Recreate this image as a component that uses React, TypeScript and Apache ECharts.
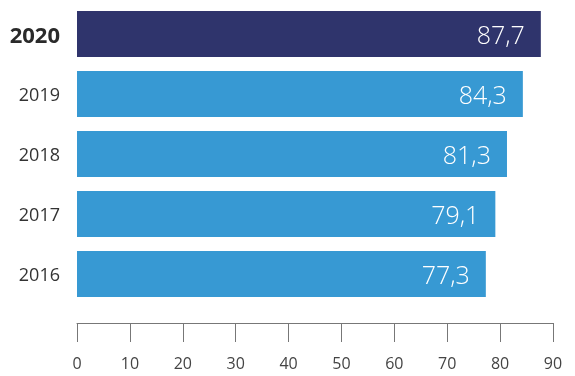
import React, { useEffect, useRef } from "react";
import * as echarts from "echarts";

const years = ["2020", "2019", "2018", "2017", "2016"];
const values = [87.7, 84.3, 81.3, 79.1, 77.3];
const highlightYear = "2020";

const NAVY = "#2F346C";
const BLUE = "#3799D3";
const FONT = "'Open Sans', sans-serif";

export default function App() {
  const ref = useRef<HTMLDivElement>(null);
  useEffect(() => {
    if (!ref.current) return;
    const chart = echarts.init(ref.current, undefined, { renderer: "svg" });
    chart.setOption({
      animation: false,
      textStyle: { fontFamily: FONT },
      grid: { left: 77, right: 22, top: 4, bottom: 72, containLabel: false },
      xAxis: {
        type: "value",
        min: 0,
        max: 90,
        interval: 10,
        offset: 19,
        splitLine: { show: false },
        axisLine: { show: true, lineStyle: { color: "#777", width: 1 } },
        axisTick: { show: true, length: 19, lineStyle: { color: "#777", width: 1 } },
        axisLabel: { margin: 33, fontSize: 16, lineHeight: 14, color: "#444", fontFamily: FONT },
      },
      yAxis: {
        type: "category",
        inverse: true,
        data: years,
        axisLine: { show: false },
        axisTick: { show: false },
        axisLabel: {
          margin: 17,
          fontSize: 18,
          color: "#333",
          fontFamily: FONT,
          formatter: (v: string) => (v === highlightYear ? `{b|${v}}` : `{n|${v}}`),
          rich: {
            b: { fontSize: 22, fontWeight: "bold", color: "#2a2a2a", fontFamily: FONT },
            n: { fontSize: 18, color: "#333", fontFamily: FONT },
          },
        },
      },
      series: [
        {
          type: "bar",
          barWidth: 46,
          data: values.map((v, i) => ({
            value: v,
            itemStyle: { color: years[i] === highlightYear ? NAVY : BLUE },
          })),
          label: {
            show: true,
            position: "insideRight",
            distance: 16,
            color: "#fff",
            fontSize: 25,
            fontWeight: 300,
            fontFamily: FONT,
            formatter: (p: any) => String(p.value).replace(".", ","),
          },
        },
      ],
    });
    return () => chart.dispose();
  }, []);
  return (
    <div
      ref={ref}
      style={{ position: "fixed", left: 0, top: 0, width: 575, height: 376 }}
    />
  );
}
